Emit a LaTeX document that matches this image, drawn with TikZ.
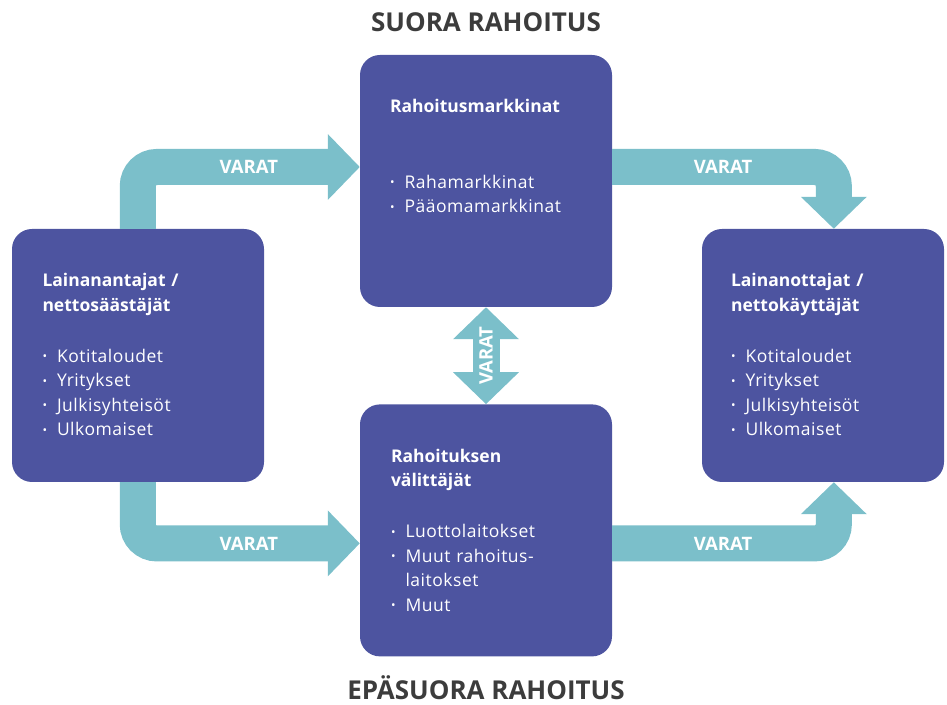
\documentclass[tikz,border=0pt]{standalone}
\usepackage{fontspec}
\setmainfont{Open Sans}
\newfontfamily\itemfont{Open Sans}[LetterSpace=3]
\usepackage{xcolor}
\usetikzlibrary{arrows.meta,positioning,calc}
\definecolor{boxblue}{HTML}{4D54A0}
\definecolor{varatblue}{HTML}{7BBFCA}
\definecolor{headgray}{HTML}{3C3C3C}
\newcommand{\bul}{\itemfont\makebox[14.5pt][l]{\raisebox{1.5pt}{\fontsize{12}{12}\selectfont\textbullet}}}

\begin{document}
\begin{tikzpicture}[x=1pt,y=1pt,
        box/.style={fill=boxblue, rounded corners=20pt, minimum width=252pt,
                    minimum height=252pt, inner sep=0pt},
        boxtext/.style={text=white, align=left, text width=215pt, inner sep=0pt,
                    anchor=base west, font=\fontsize{17.5}{24.5}\selectfont},
        band/.style={draw=varatblue, line width=36pt, rounded corners=19pt,
                    -{Triangle[length=32pt,width=64pt]}},
        varat/.style={text=white, font=\bfseries\fontsize{18.5}{20}\selectfont},
        header/.style={text=headgray, anchor=base, font=\bfseries\fontsize{26}{30}\selectfont}]
                \useasboundingbox (0,0) rectangle (947,704);

                \node [box] (markets) at (486,523) {};
                \node [box, below=97pt of markets] (intermed) {};
                \node [box, minimum height=253pt] (lenders) at (138,348.5) {};
                \node [box, minimum width=242pt, minimum height=253pt]
                                        (borrowers) at (823,348.5) {};

                \node [header] (direct) at ($(markets.north)+(0,23)$) {SUORA RAHOITUS};
                \node [header] (indirect) at ($(intermed.south)+(0,-43)$) {EPÄSUORA RAHOITUS};

                \node [boxtext] (lenderstext) at ($(lenders.north west)+(30.5,-58)$)
                        {\textbf{Lainanantajat /}\\ \textbf{nettosäästäjät}\\[26.5pt]
                         \bul Kotitaloudet\\ \bul Yritykset\\ \bul Julkisyhteisöt\\ \bul Ulkomaiset};
                \node [boxtext] (marketstext) at ($(markets.north west)+(30,-58)$)
                        {\textbf{Rahoitusmarkkinat}\\[51pt]
                         \bul Rahamarkkinat\\ \bul Pääomamarkkinat};
                \node [boxtext] (intermedtext) at ($(intermed.north west)+(31,-58)$)
                        {\textbf{Rahoituksen}\\ \textbf{välittäjät}\\[26.5pt]
                         \bul Luottolaitokset\\ \bul Muut rahoitus-\\ \hspace*{14.5pt}laitokset\\ \bul Muut};
                \node [boxtext] (borrowerstext) at ($(borrowers.north west)+(29,-58)$)
                        {\textbf{Lainanottajat /}\\ \textbf{nettokäyttäjät}\\[26.5pt]
                         \bul Kotitaloudet\\ \bul Yritykset\\ \bul Julkisyhteisöt\\ \bul Ulkomaiset};

                \draw [band] ($(lenders.north west)+(126,0)$) |- ($(markets.west)+(0,14)$)
                            node [varat, pos=0.75] {VARAT};
                \draw [band] ($(markets.east)+(0,14)$) -| ($(borrowers.north west)+(132,0)$)
                            node [varat, pos=0.25] {VARAT};
                \draw [band] ($(lenders.south west)+(126,0)$) |- ($(intermed.west)+(0,-13)$)
                            node [varat, pos=0.75] {VARAT};
                \draw [band] ($(intermed.east)+(0,-13)$) -| ($(borrowers.south west)+(132,0)$)
                            node [varat, pos=0.25] {VARAT};
                \draw [draw=varatblue, line width=27pt,
                        {Triangle[length=32pt,width=64pt]}-{Triangle[length=32pt,width=64pt]}]
                            (markets.south) -- (intermed.north)
                            node [varat, midway, rotate=90] {VARAT};
\end{tikzpicture}
\end{document}
